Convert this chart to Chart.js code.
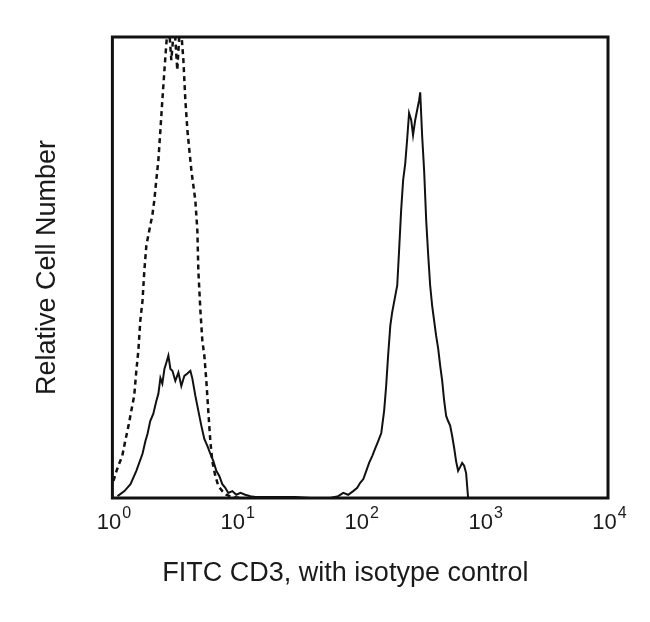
<!DOCTYPE html>
<html>
<head>
<meta charset="utf-8">
<script src="https://cdn.jsdelivr.net/npm/chart.js@4.4.1/dist/chart.umd.min.js"></script>
<style>
  html, body { margin: 0; padding: 0; background: #fff; }
  #wrap { width: 650px; height: 622px; }
</style>
</head>
<body>
<div id="wrap"><canvas id="myChart" width="650" height="622"></canvas></div>
<script>
// FITC CD3 stained cells (solid line)
const solidX = [1.10, 1.25, 1.40, 1.56, 1.75, 1.85, 1.92, 2.02, 2.14, 2.26, 2.35, 2.44, 2.53, 2.63, 2.72, 2.83,
  2.94, 3.05, 3.22, 3.41, 3.60, 3.81, 4.03, 4.26, 4.42, 4.67, 4.94, 5.22, 5.52, 5.84, 6.17, 6.53, 6.90, 7.29,
  7.71, 8.15, 8.62, 9.29, 10, 10.8, 11.8, 13.0, 14.2, 17.1, 22.6, 29.9, 39.5, 57.3, 66.5, 73.0, 80.0, 87.8,
  94.6, 100, 106, 112, 118, 125, 132, 140, 148, 156, 162, 168, 175, 181, 192, 199, 206, 214, 222, 231, 239,
  248, 258, 267, 278, 288, 299, 305, 316, 328, 341, 354, 367, 381, 395, 410, 426, 442, 459, 476, 494, 512,
  532, 552, 573, 594, 617, 640, 665, 690, 716, 743, 1000, 10000];
const solidY = [0.4, 1.5, 3, 5.9, 9.6, 12.4, 13.9, 16.7, 18.3, 21, 22.6, 26, 24.8, 28, 29.3, 30.9,
  28, 27.6, 25.4, 27.2, 24.3, 26.5, 27, 27.6, 25.9, 22.2, 18.9, 15.7, 12.8, 11.3, 9.6, 8, 5.9, 4.8,
  3, 2.2, 1.1, 1.5, 0.7, 1.1, 0.7, 0.4, 0.2, 0.2, 0.2, 0.2, 0, 0, 0.4, 1.1, 0.7, 1.5,
  2.2, 3.3, 4.1, 5.9, 7.6, 9.1, 10.7, 12.4, 14.1, 18.9, 24.3, 30.9, 37.4, 40.2, 43.9, 46.1, 53.7, 62.4, 68.9, 72.6, 77.6,
  83.5, 82, 78.7, 82, 84.1, 86.3, 88, 78.7, 71.1, 60.2, 52.6, 46.1, 41.7, 38.5, 35.2, 32.4, 28.7, 25.4, 21.1, 17.8, 16.7,
  15.7, 13.5, 10.9, 8, 5.9, 6.7, 7.6, 7, 5.4, 0, 0, 0];

// isotype control (dashed line)
const isoX = [1.02, 1.08, 1.14, 1.20, 1.27, 1.35, 1.42, 1.50, 1.56, 1.62, 1.68, 1.75, 1.81, 1.88, 1.95, 2.02,
  2.10, 2.18, 2.26, 2.35, 2.44, 2.53, 2.63, 2.72, 2.83, 2.99, 3.16, 3.34, 3.53, 3.74, 3.88, 4.03, 4.18, 4.34,
  4.50, 4.67, 4.85, 4.94, 5.13, 5.32, 5.52, 5.73, 5.94, 6.17, 6.40, 6.77, 7.16, 7.71, 8.30, 9.29, 10.8];
const isoY = [3.7, 5.9, 7.6, 9.1, 12.4, 15.7, 18.9, 22.2, 27.6, 32, 38.5, 42.8, 49.3, 54.8, 57, 59.1,
  61.3, 64.6, 68.9, 73.3, 79.8, 86.3, 92.8, 98.3, 104, 95, 103, 92.8, 104, 95, 86.3, 79.8, 75.4, 71.1,
  67.8, 64.6, 58, 49.3, 40.7, 34.1, 30.9, 25.4, 18.9, 12.4, 8, 4.8, 2.6, 1.5, 0.7, 0.2, 0];

// x axis ticks: 10^0 .. 10^4
const tickValues = [1, 10, 100, 1000, 10000];
const tickBase = '10';
const tickExp = ['0', '1', '2', '3', '4'];

const xTitle = 'FITC CD3, with isotype control';
const yTitle = 'Relative Cell Number';

const FONT = 'Liberation Sans, Arial, Helvetica, sans-serif';
const TEXT = '#1a1a1a';

// box around the plot
const framePlugin = {
    id: 'frame',
    afterDatasetsDraw(chart) {
        const a = chart.chartArea;
        const ctx = chart.ctx;
        ctx.save();
        ctx.strokeStyle = '#111';
        ctx.lineWidth = 3;
        ctx.strokeRect(a.left, a.top, a.right - a.left, a.bottom - a.top);
        ctx.restore();
    }
};

// "10" with a raised exponent under each decade, and the x title
const powerLabels = {
    id: 'powerLabels',
    afterDraw(chart) {
        const ctx = chart.ctx;
        const xs = chart.scales.x;
        const y = chart.chartArea.bottom + 31;
        ctx.save();
        ctx.fillStyle = TEXT;
        ctx.textBaseline = 'alphabetic';
        ctx.textAlign = 'left';
        tickValues.forEach((v, i) => {
            const px = xs.getPixelForValue(v);
            ctx.font = '22px ' + FONT;
            const wb = ctx.measureText(tickBase).width;
            ctx.font = '16px ' + FONT;
            const we = ctx.measureText(tickExp[i]).width;
            const start = px - (wb + we) / 2 + 1;
            ctx.font = '22px ' + FONT;
            ctx.fillText(tickBase, start, y);
            ctx.font = '16px ' + FONT;
            ctx.fillText(tickExp[i], start + wb + 1, y - 11);
        });
        ctx.font = '27px ' + FONT;
        ctx.textAlign = 'center';
        ctx.fillText(xTitle, xs.left + 233, chart.chartArea.bottom + 83);
        ctx.restore();
    }
};

function toPoints(xs, ys) {
    return xs.map((x, i) => ({ x: x, y: ys[i] }));
}

const ctx = document.getElementById('myChart').getContext('2d');

const myChart = new Chart(ctx, {
    type: 'line',
    data: {
        datasets: [{
            label: 'FITC CD3',
            data: toPoints(solidX, solidY),
            borderColor: '#111',
            borderWidth: 2,
            pointRadius: 0,
            tension: 0
        }, {
            label: 'Isotype control',
            data: toPoints(isoX, isoY),
            borderColor: '#111',
            borderWidth: 2.5,
            borderDash: [5, 4],
            pointRadius: 0,
            tension: 0
        }]
    },
    options: {
        responsive: false,
        animation: false,
        layout: {
            padding: { left: 20, right: 42, top: 37, bottom: 116 }
        },
        plugins: {
            legend: { display: false },
            tooltip: { enabled: false }
        },
        scales: {
            x: {
                type: 'logarithmic',
                min: 1,
                max: 10000,
                afterBuildTicks: (scale) => {
                    scale.ticks = tickValues.map(v => ({ value: v }));
                },
                ticks: { display: false },
                grid: { display: false },
                border: { display: false }
            },
            y: {
                min: 0,
                max: 100,
                ticks: { display: false },
                grid: { display: false },
                border: { display: false },
                title: {
                    display: true,
                    text: yTitle,
                    color: TEXT,
                    font: { family: FONT, size: 27 },
                    padding: { top: 11, bottom: 41 }
                }
            }
        }
    },
    plugins: [framePlugin, powerLabels]
});
</script>
</body>
</html>
